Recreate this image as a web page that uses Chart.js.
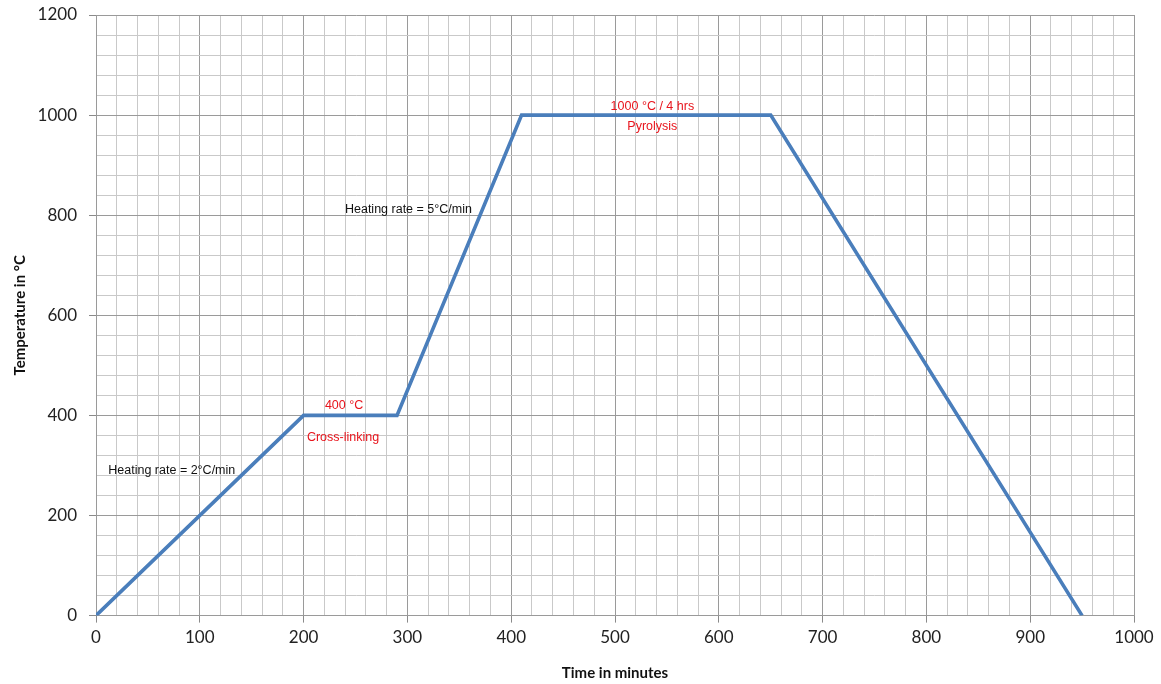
<!DOCTYPE html>
<html>
<head>
<meta charset="utf-8">
<script src="https://cdn.jsdelivr.net/npm/chart.js@4/dist/chart.umd.min.js"></script>
<style>
  html, body { margin: 0; padding: 0; background: #fff; }
  #wrap { width: 1161px; height: 684px; }
</style>
</head>
<body>
<div id="wrap"><canvas id="c" width="1161" height="684"></canvas></div>
<script>
// Firing schedule: time (min) vs furnace temperature (°C)
const timeMin = [0, 200, 290, 410, 650, 950];
const tempC   = [0, 400, 400, 1000, 1000, 0];

// Axis ranges and tick spacing
const xMax = 1000, xMajor = 100, xMinor = 20;
const yMax = 1200, yMajor = 200, yMinor = 40;

// Text notes placed in data coordinates
const noteTexts  = ['Heating rate = 2°C/min', 'Heating rate = 5°C/min', '400 °C', 'Cross-linking', '1000 °C / 4 hrs', 'Pyrolysis'];
const noteX      = [73, 301, 239, 238, 536, 536];
const noteY      = [290, 812, 420, 356, 1018, 978];
const noteColors = ['#111111', '#111111', '#e8141c', '#e8141c', '#e8141c', '#e8141c'];

const points = timeMin.map((t, i) => ({ x: t, y: tempC[i] }));
const notes = noteTexts.map((t, i) => ({ text: t, x: noteX[i], y: noteY[i], color: noteColors[i] }));

const isMajor = (v, step) => Math.abs(v / step - Math.round(v / step)) < 1e-6;

const notePlugin = {
  id: 'notes',
  afterDatasetsDraw(chart) {
    const { ctx, scales } = chart;
    ctx.save();
    ctx.font = '12.5px "Liberation Sans Narrow", "Arial Narrow", "Liberation Sans", Arial, sans-serif';
    ctx.textAlign = 'center';
    ctx.textBaseline = 'middle';
    notes.forEach(n => {
      ctx.fillStyle = n.color;
      ctx.fillText(n.text, scales.x.getPixelForValue(n.x), scales.y.getPixelForValue(n.y));
    });
    ctx.restore();
  }
};

new Chart(document.getElementById('c'), {
  type: 'line',
  data: {
    datasets: [{
      data: points,
      borderColor: '#4a7ebb',
      borderWidth: 3.6,
      pointRadius: 0,
      fill: false,
      tension: 0
    }]
  },
  options: {
    responsive: false,
    animation: false,
    layout: { padding: { top: 5, right: 27, left: 11, bottom: 2 } },
    plugins: { legend: { display: false }, tooltip: { enabled: false } },
    scales: {
      x: {
        type: 'linear',
        min: 0, max: xMax,
        border: { color: '#9a9a9a', width: 1 },
        grid: {
          color: c => isMajor(c.tick.value, xMajor) ? '#9a9a9a' : '#c9c9c9',
          tickColor: c => isMajor(c.tick.value, xMajor) ? '#8a8a8a' : 'rgba(0,0,0,0)',
          tickLength: 7
        },
        ticks: {
          stepSize: xMinor,
          autoSkip: false,
          maxRotation: 0,
          color: '#222',
          font: { family: 'Lato, "Open Sans", sans-serif', size: 17 },
          padding: 5,
          callback: v => isMajor(v, xMajor) ? String(v) : ''
        },
        title: {
          display: true,
          text: 'Time in minutes',
          color: '#111',
          font: { family: 'Lato, "Open Sans", sans-serif', size: 15, weight: 'bold' },
          padding: { top: 11, bottom: 0 }
        }
      },
      y: {
        type: 'linear',
        min: 0, max: yMax,
        afterFit: s => { s.width = 85; s.paddingTop = 15; },
        border: { color: '#9a9a9a', width: 1 },
        grid: {
          color: c => isMajor(c.tick.value, yMajor) ? '#9a9a9a' : '#c9c9c9',
          tickColor: c => isMajor(c.tick.value, yMajor) ? '#8a8a8a' : 'rgba(0,0,0,0)',
          tickLength: 7
        },
        ticks: {
          stepSize: yMinor,
          autoSkip: false,
          color: '#222',
          font: { family: 'Lato, "Open Sans", sans-serif', size: 17 },
          padding: 12,
          callback: v => isMajor(v, yMajor) ? String(v) : ''
        },
        title: {
          display: true,
          text: 'Temperature in °C',
          color: '#111',
          font: { family: 'Lato, "Open Sans", sans-serif', size: 15, weight: 'bold' },
          padding: { top: 0, bottom: 4 }
        }
      }
    }
  },
  plugins: [notePlugin]
});
</script>
</body>
</html>
